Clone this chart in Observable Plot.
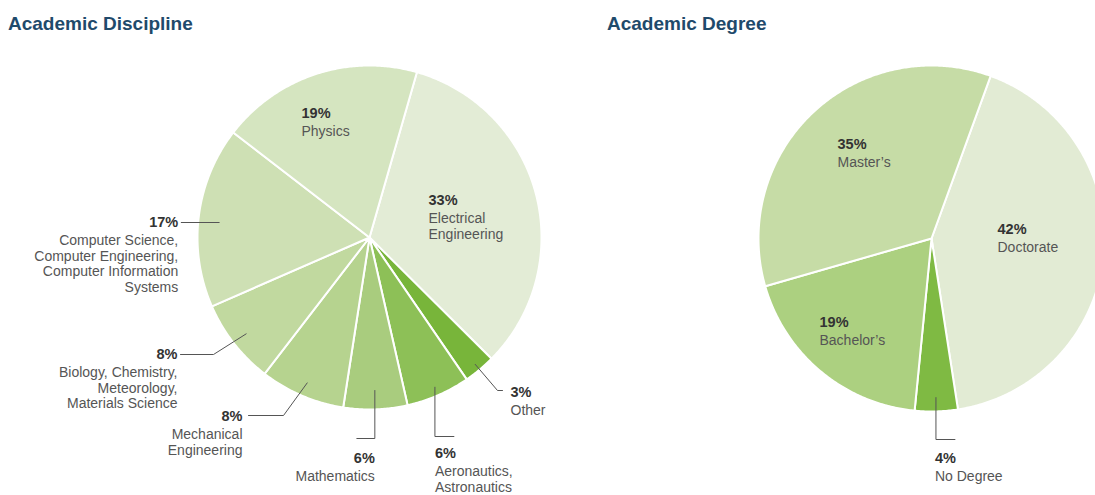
<!DOCTYPE html>
<html>
<head>
<meta charset="utf-8">
<script src="https://cdn.jsdelivr.net/npm/d3@7"></script>
<script src="https://cdn.jsdelivr.net/npm/@observablehq/plot@0.6"></script>
<style>
  html, body { margin: 0; padding: 0; background: #fff; overflow: hidden; }
  body { width: 1095px; height: 495px; font-family: "Liberation Sans", Arial, sans-serif; }
  #head { position: relative; height: 40px; }
  #head span { position: absolute; top: 14px; font-size: 19px; line-height: 19px; font-weight: bold; color: #1f4a6b; white-space: nowrap; }
</style>
</head>
<body>
<div id="head"><span style="left:8px">Academic Discipline</span><span style="left:607px">Academic Degree</span></div>
<div id="chart"></div>
<script>
// ---- data ----
const disciplineNames = ["Electrical\nEngineering", "Other", "Aeronautics,\nAstronautics", "Mathematics",
  "Mechanical\nEngineering", "Biology, Chemistry,\nMeteorology,\nMaterials Science",
  "Computer Science,\nComputer Engineering,\nComputer Information\nSystems", "Physics"];
const disciplineValues = [33, 3, 6, 6, 8, 8, 17, 19];
const disciplineColors = ["#e3ecd6", "#78b53a", "#8dc057", "#a9cc7e", "#b6d38f", "#c1d99f", "#cee0b4", "#d5e5c0"];

const degreeNames = ["Doctorate", "No Degree", "Bachelor\u2019s", "Master\u2019s"];
const degreeValues = [42, 4, 19, 35];
const degreeColors = ["#e2ebd4", "#7fba43", "#acd080", "#c6dca6"];

// ---- layout ----
const W = 1095, H = 455, TOP = 40;
const pies = [
  { cx: 369, cy: 237 - TOP, r: 172, start: 16, names: disciplineNames, values: disciplineValues, colors: disciplineColors,
    labels: [
      { inside: [59, -37] },
      { r: 0.96, ex: 128, ey: 153, endDx: 5, tdx: 8, tdy: 2, anchor: "start" },
      { r: 0.95, ex: null, ey: 199, endDx: 19, tdx: -19, tdy: 17, anchor: "start" },
      { r: 0.89, ex: null, ey: 201, endDx: -18, tdx: 18, tdy: 20, anchor: "end" },
      { r: 0.92, ex: -86, ey: 178, endDx: -35, tdx: -6, tdy: 1, anchor: "end" },
      { r: 0.91, ex: -156, ey: 117, endDx: -33, tdx: -3, tdy: 0, anchor: "end" },
      { r: 0.88, flat: -15, ex: null, ey: null, endDx: -38, tdx: -3, tdy: 0, anchor: "end" },
      { inside: [-68, -124] }
    ] },
  { cx: 931, cy: 238 - TOP, r: 173, start: 20, names: degreeNames, values: degreeValues, colors: degreeColors,
    labels: [
      { inside: [66, -9] },
      { r: 0.92, ex: null, ey: 201, endDx: 19, tdx: -20, tdy: 19, anchor: "start" },
      { inside: [-112, 84] },
      { inside: [-94, -94] }
    ] }
];

const rad = Math.PI / 180;
const slicePts = [], leaderPts = [], pctLabels = [], nameLabels = [];
pies.forEach((p, pi) => {
  const arcs = d3.pie().sort(null).startAngle(p.start * rad).endAngle((p.start + 360) * rad)(p.values);
  const pos = (a, rr) => [p.cx + rr * Math.sin(a), p.cy - rr * Math.cos(a)];
  arcs.forEach((a, i) => {
    const key = pi + "-" + i;
    const c = pos(0, 0);
    slicePts.push({ key, x: c[0], y: c[1], color: p.colors[i] });
    const n = Math.max(2, Math.ceil((a.endAngle - a.startAngle) / (0.5 * rad)));
    for (let k = 0; k <= n; k++) {
      const t = a.startAngle + (a.endAngle - a.startAngle) * k / n;
      const q = pos(t, p.r);
      slicePts.push({ key, x: q[0], y: q[1], color: p.colors[i] });
    }
    const L = p.labels[i];
    let tx, ty, anchor;
    if (L.inside) {
      tx = p.cx + L.inside[0]; ty = p.cy + L.inside[1]; anchor = "start";
    } else {
      const mid = (a.startAngle + a.endAngle) / 2;
      const s = pos(mid, p.r * L.r);
      if (L.flat != null) s[1] = p.cy + L.flat;
      const ex = L.ex == null ? s[0] : p.cx + L.ex;
      const ey = L.ey == null ? s[1] : p.cy + L.ey;
      const end = [ex + L.endDx, ey];
      [s, [ex, ey], end].forEach(pt => leaderPts.push({ key, x: pt[0], y: pt[1] }));
      tx = end[0] + L.tdx; ty = end[1] + L.tdy; anchor = L.anchor;
    }
    pctLabels.push({ x: tx, y: ty, text: p.values[i] + "%", anchor });
    nameLabels.push({ x: tx, y: ty + 11, text: p.names[i], anchor });
  });
});

const font = "Liberation Sans, Arial, sans-serif";
const chart = Plot.plot({
  width: W, height: H, margin: 0,
  style: { overflow: "hidden", background: "#fff" },
  x: { domain: [0, W], range: [0, W], axis: null },
  y: { domain: [0, H], range: [0, H], axis: null },
  color: { type: "identity" },
  marks: [
    Plot.line(slicePts, { x: "x", y: "y", z: "key", fill: "color", stroke: "#fff", strokeWidth: 2, strokeLinejoin: "round", curve: "linear-closed" }),
    Plot.line(leaderPts, { x: "x", y: "y", z: "key", stroke: "#555", strokeWidth: 1 }),
    Plot.text(pctLabels.filter(d => d.anchor === "start"), { x: "x", y: "y", text: "text", textAnchor: "start", lineAnchor: "middle", fontSize: 14.5, fontWeight: "bold", fill: "#333", fontFamily: font }),
    Plot.text(pctLabels.filter(d => d.anchor === "end"), { x: "x", y: "y", text: "text", textAnchor: "end", lineAnchor: "middle", fontSize: 14.5, fontWeight: "bold", fill: "#333", fontFamily: font }),
    Plot.text(nameLabels.filter(d => d.anchor === "start"), { x: "x", y: "y", text: "text", textAnchor: "start", lineAnchor: "top", lineHeight: 1.13, fontSize: 14, fill: "#555", fontFamily: font }),
    Plot.text(nameLabels.filter(d => d.anchor === "end"), { x: "x", y: "y", text: "text", textAnchor: "end", lineAnchor: "top", lineHeight: 1.13, fontSize: 14, fill: "#555", fontFamily: font })
  ]
});
document.getElementById("chart").appendChild(chart);
</script>
</body>
</html>
